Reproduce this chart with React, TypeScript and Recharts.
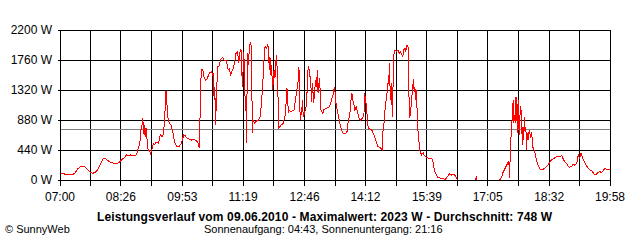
import React from 'react';
import { LineChart, Line, XAxis, YAxis, CartesianGrid, ReferenceLine } from 'recharts';

// time of day in minutes since midnight
const minutes: number[] = [
  421, 429, 436, 441, 445, 450, 454, 457, 462, 466, 470, 474, 478, 481, 483, 487, 490, 495, 500, 503,
  507, 511, 514, 517, 520, 523, 528, 530, 533, 534, 536, 537, 539, 540, 541, 542, 543, 544, 547, 548,
  550, 552, 554, 556, 559, 561, 562, 564, 566, 567, 568, 569, 570, 572, 573, 575, 577, 580, 582, 585,
  588, 591, 593, 595, 597, 600, 603, 606, 609, 612, 615, 616, 617,
  618, 619, 620, 622, 624, 626, 628, 631, 634, 636, 637, 638, 639, 640, 641, 642, 643, 645, 647, 650,
  652, 655, 657, 658, 660, 661, 663, 665, 667, 669, 671, 672, 673, 674, 676, 677, 678, 679, 680, 682,
  683, 684, 685, 686, 687, 689, 690, 691, 692, 693, 695, 697, 699, 701, 703, 705, 708, 709, 710, 712,
  714, 715, 716, 717, 718, 719, 721, 722, 723, 724, 725, 726, 728, 729, 731, 733, 736, 738, 739, 741,
  742, 743, 744, 746, 749, 751, 753, 755, 757, 758, 759, 760, 762, 763, 764, 766, 768, 770, 771, 773,
  774, 775, 776, 777, 779, 780, 782, 783, 784, 785, 787, 788, 789, 792, 793, 796, 800, 802, 804, 807,
  808, 809, 810, 812, 815, 817, 818, 821, 824, 826, 828, 830, 831, 833, 834, 835, 837, 839, 841, 842,
  843, 845, 848, 850, 851, 853, 855, 856, 861, 863, 866, 868, 870, 873, 875, 876, 877, 879, 880, 882,
  884, 885, 886, 887, 888, 889, 890, 891, 892, 894, 896, 898, 900, 901, 903, 905, 906, 908, 909, 911,
  913, 914, 916, 917, 919, 920, 921, 922, 923, 924, 925, 926, 927, 928, 929, 931, 932, 934, 935, 938,
  941, 946, 948, 950, 953, 955, 960, 965, 968, 971, 974, 977, 980, 982, 995, 1007, 1009, 1010, 1025, 1042,
  1045, 1047, 1049, 1052, 1054, 1055, 1056, 1057, 1059, 1060, 1061, 1062, 1063, 1064, 1065, 1066, 1067, 1068, 1069, 1070,
  1071, 1072, 1073, 1074, 1075, 1076, 1077, 1078, 1079, 1080, 1081, 1082, 1083, 1084, 1086, 1087, 1089, 1090, 1092, 1094,
  1097, 1099, 1103, 1106, 1108, 1112, 1115, 1119, 1122, 1126, 1130, 1132, 1134, 1137, 1139, 1141, 1144, 1146, 1148, 1151,
  1152, 1153, 1155, 1156, 1157, 1159, 1160, 1163, 1165, 1167, 1170, 1172, 1174, 1177, 1179, 1181, 1184, 1186, 1189, 1191,
  1193, 1196, 1198,
];

// power in W (null = no data)
const watts: (number | null)[] = [
  98, 83, 73, 98, 161, 205, 200, 171, 122, 98, 112, 161, 244, 308, 318, 293, 269, 249, 244, 254,
  293, 328, 367, 357, 367, 357, 367, 440, 538, 709, 807, 905, 660, 807, 636, 758, 611, 465, 416, 391,
  440, 538, 523, 553, 538, 611, 670, 636, 660, 758, 855, 1149, 1305, 1002, 880, 831, 807, 685, 562, 489,
  489, 523, 587, 660, 650, 611, 600, 587, 600, 580, 560, 500, 470,
  880, 1369, 1623, 1614, 1491, 1467, 1477, 1565, 1589, 1540, 1565, 1174, 1369, 800, 1100, 1418, 1662, 1672, 1760, 1799,
  1760, 1750, 1662, 1614, 1638, 1540, 1589, 1638, 1711, 1858, 1882, 1809, 1711, 1858, 1917, 1662, 1369, 1614, 1882, 1125,
  1076, 538, 1858, 1687, 1809, 2023, 2015, 1858, 685, 880, 831, 856, 880, 880, 929, 1125, 1614, 1858, 1956, 1931,
  1980, 1907, 1614, 1809, 1540, 1687, 1320, 1565, 1614, 1491, 1662, 1834, 1491, 758, 782, 807, 831, 929, 978, 1345,
  1198, 978, 1027, 1002, 1017, 1027, 1174, 1320, 1467, 1662, 1125, 880, 1027, 1174, 929, 978, 1076, 1369, 1662, 1614,
  1467, 1369, 1149, 1418, 1125, 1296, 1467, 1369, 1614, 1271, 1491, 1320, 1027, 978, 1027, 1051, 1066, 1100, 1174, 1271,
  1369, 1296, 1149, 1027, 880, 782, 734, 675, 685, 709, 880, 954, 1125, 1271, 1174, 1149, 1027, 1076, 978, 954,
  905, 880, 905, 978, 1271, 1125, 880, 758, 734, 685, 611, 538, 489, 475, 450, 440, 734, 880, 1076, 1223,
  1418, 1418, 1711, 1296, 1174, 1418, 929, 1345, 1834, 1907, 1882, 1907, 1858, 1882, 1858, 1809, 1907, 1931, 1882, 1980,
  1931, 905, 978, 1149, 1369, 1477, 1296, 1369, 1174, 1320, 1051, 734, 685, 538, 440, 367, 391, 401, 367, 333,
  318, 318, 245, 122, 59, 34, 25, 10, 49, 88, 73, 83, 49, 0, null, 0, 40, 0, null, 0,
  49, 122, 157, 220, 269, 260, 30, 440, 831, 929, 1174, 831, 954, 831, 1223, 1027, 685, 1174, 782, 660,
  1076, 1051, 880, 514, 782, 587, 929, 734, 782, 440, 685, 587, 685, 734, 611, 709, 479, 465, 391, 293,
  196, 162, 157, 171, 196, 245, 293, 318, 342, 342, 357, 303, 269, 235, 196, 186, 206, 235, 220, 245,
  293, 367, 318, 352, 391, 342, 303, 245, 206, 171, 147, 137, 108, 73, 88, 108, 122, 108, 147, 171,
  157, 157, 157,
];

const timeLabels: string[] = ['07:00', '08:26', '09:53', '11:19', '12:46', '14:12', '15:39', '17:05', '18:32', '19:58'];
const powerTicks: number[] = [0, 440, 880, 1320, 1760, 2200];
const averageW = 748;
const maxW = 2023;
const dateLabel = '09.06.2010';
const sunrise = '04:43';
const sunset = '21:16';

const toMin = (s: string) => {
  const [h, m] = s.split(':').map(Number);
  return h * 60 + m;
};
const labelMins = timeLabels.map(toMin);
const xTicks: number[] = [];
labelMins.forEach((m, i) => {
  xTicks.push(m);
  if (i < labelMins.length - 1) xTicks.push((m + labelMins[i + 1]) / 2);
});

const data = minutes.map((t, i) => ({ t, w: watts[i] }));

const font = '"Liberation Sans", Arial, sans-serif';

export default function App() {
  return (
    <div
      style={{
        position: 'absolute',
        left: 0,
        top: 0,
        width: 640,
        height: 240,
        background: '#fff',
        fontFamily: font,
        overflow: 'hidden',
      }}
    >
      <style>{`.sw svg line, .sw svg path { shape-rendering: crispEdges; }`}</style>
      <div className="sw" style={{ position: 'absolute', left: 0, top: 0 }}>
        <LineChart width={640} height={240} data={data} margin={{ top: 30, right: 30, bottom: 0, left: 0 }}>
          <CartesianGrid stroke="#000" strokeWidth={1} />
          <XAxis
            dataKey="t"
            type="number"
            domain={[labelMins[0], labelMins[labelMins.length - 1]]}
            ticks={xTicks}
            interval={0}
            tickFormatter={(v: number) => {
              const i = labelMins.indexOf(v);
              return i >= 0 ? timeLabels[i] : '';
            }}
            height={60}
            tickSize={6}
            tickMargin={6}
            axisLine={{ stroke: '#000' }}
            tickLine={{ stroke: '#000' }}
            tick={{ fill: '#000', fontSize: 12, fontFamily: font }}
          />
          <YAxis
            type="number"
            domain={[0, 2200]}
            ticks={powerTicks}
            interval={0}
            tickFormatter={(v: number) => `${v} W`}
            width={60}
            tickSize={2}
            tickMargin={6}
            axisLine={{ stroke: '#000' }}
            tickLine={{ stroke: '#000' }}
            tick={{ fill: '#000', fontSize: 12, fontFamily: font }}
          />
          <ReferenceLine y={averageW} stroke="#808080" strokeWidth={1} ifOverflow="visible" />
          <Line
            dataKey="w"
            type="linear"
            stroke="#ff0000"
            strokeWidth={1}
            dot={false}
            activeDot={false}
            connectNulls={false}
            isAnimationActive={false}
          />
        </LineChart>
      </div>
      <div
        style={{
          position: 'absolute',
          left: 97,
          top: 210,
          fontSize: 12,
          lineHeight: '14px',
          fontWeight: 'bold',
          letterSpacing: '0.13px',
          whiteSpace: 'nowrap',
          color: '#000',
        }}
      >
        {`Leistungsverlauf vom ${dateLabel} - Maximalwert: ${maxW} W - Durchschnitt: ${averageW} W`}
      </div>
      <div
        style={{
          position: 'absolute',
          left: 204,
          top: 223,
          fontSize: 11,
          lineHeight: '13px',
          whiteSpace: 'nowrap',
          color: '#000',
        }}
      >
        {`Sonnenaufgang: ${sunrise}, Sonnenuntergang: ${sunset}`}
      </div>
      <div
        style={{
          position: 'absolute',
          left: 5,
          top: 223,
          fontSize: 11,
          lineHeight: '13px',
          whiteSpace: 'nowrap',
          color: '#000',
        }}
      >
        © SunnyWeb
      </div>
    </div>
  );
}
